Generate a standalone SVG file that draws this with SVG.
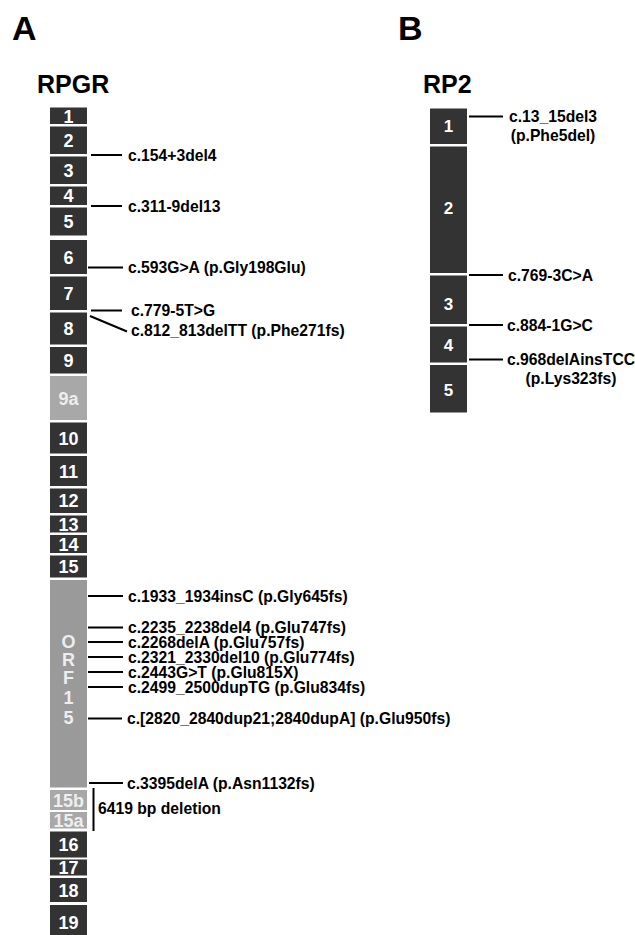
<svg xmlns="http://www.w3.org/2000/svg" width="635" height="935" viewBox="0 0 635 935">
<style>
.dk{fill:#333333}
.lt{fill:#a8a8a8}
.md{fill:#9a9a9a}
.ex{font-family:"Liberation Sans",Arial,sans-serif;font-weight:bold;font-size:18px;fill:#ffffff;text-anchor:middle}
.exl{fill:#eeeeee}
.ex2{font-size:17px}
.mu{font-family:"Liberation Sans",Arial,sans-serif;font-weight:bold;font-size:15.7px;fill:#000000}
.mc{text-anchor:middle}
.ttl{font-family:"Liberation Sans",Arial,sans-serif;font-weight:bold;fill:#000000}
.ln{stroke:#000000;stroke-width:2;fill:none}
</style>
<rect width="635" height="935" fill="#ffffff"/>
<text class="ttl" x="12" y="40" font-size="34">A</text>
<text class="ttl" x="398" y="40" font-size="34">B</text>
<text class="ttl" x="37" y="93" font-size="25">RPGR</text>
<text class="ttl" x="423" y="93" font-size="25">RP2</text>

<g id="rpgr">
<g id="rpgr-e1"><rect class="dk" x="50" y="107.5" width="37" height="16.5"/><text class="ex" x="68.5" y="122.5">1</text></g>
<g id="rpgr-e2"><rect class="dk" x="50" y="126.5" width="37" height="27.5"/><text class="ex" x="68.5" y="146.5">2</text></g>
<g id="rpgr-e3"><rect class="dk" x="50" y="156.5" width="37" height="27.5"/><text class="ex" x="68.5" y="176.5">3</text></g>
<g id="rpgr-e4"><rect class="dk" x="50" y="186.5" width="37" height="18.5"/><text class="ex" x="68.5" y="202">4</text></g>
<g id="rpgr-e5"><rect class="dk" x="50" y="207.5" width="37" height="28"/><text class="ex" x="68.5" y="228">5</text></g>
<g id="rpgr-e6"><rect class="dk" x="50" y="240" width="37" height="34"/><text class="ex" x="68.5" y="263.5">6</text></g>
<g id="rpgr-e7"><rect class="dk" x="50" y="276.5" width="37" height="33.5"/><text class="ex" x="68.5" y="299.5">7</text></g>
<g id="rpgr-e8"><rect class="dk" x="50" y="312.5" width="37" height="32"/><text class="ex" x="68.5" y="335">8</text></g>
<g id="rpgr-e9"><rect class="dk" x="50" y="347" width="37" height="26.5"/><text class="ex" x="68.5" y="366.5">9</text></g>
<g id="rpgr-e9a"><rect class="lt" x="50" y="376" width="37" height="44"/><text class="ex exl" x="68.5" y="404.5">9a</text></g>
<g id="rpgr-e10"><rect class="dk" x="50" y="422.5" width="37" height="31"/><text class="ex" x="68.5" y="444.5">10</text></g>
<g id="rpgr-e11"><rect class="dk" x="50" y="456" width="37" height="30"/><text class="ex" x="68.5" y="477.5">11</text></g>
<g id="rpgr-e12"><rect class="dk" x="50" y="488.5" width="37" height="24.5"/><text class="ex" x="68.5" y="507">12</text></g>
<g id="rpgr-e13"><rect class="dk" x="50" y="515.5" width="37" height="17"/><text class="ex" x="68.5" y="530.5">13</text></g>
<g id="rpgr-e14"><rect class="dk" x="50" y="535" width="37" height="18"/><text class="ex" x="68.5" y="550.5">14</text></g>
<g id="rpgr-e15"><rect class="dk" x="50" y="555.5" width="37" height="22"/><text class="ex" x="68.5" y="573">15</text></g>
<g id="rpgr-orf15"><rect class="md" x="50" y="580" width="37" height="207.5"/>
<text class="ex exl" x="68.5" y="648">O</text><text class="ex exl" x="68.5" y="666">R</text><text class="ex exl" x="68.5" y="684">F</text><text class="ex exl" x="68.5" y="704">1</text><text class="ex exl" x="68.5" y="724">5</text></g>
<g id="rpgr-e15b"><rect class="lt" x="50" y="790" width="37" height="20"/><text class="ex exl" x="68.5" y="806.5">15b</text></g>
<g id="rpgr-e15a"><rect class="lt" x="50" y="812" width="37" height="16.5"/><text class="ex exl" x="68.5" y="826.5">15a</text></g>
<g id="rpgr-e16"><rect class="dk" x="50" y="831.5" width="37" height="26"/><text class="ex" x="68.5" y="851">16</text></g>
<g id="rpgr-e17"><rect class="dk" x="50" y="859.5" width="37" height="16"/><text class="ex" x="68.5" y="874">17</text></g>
<g id="rpgr-e18"><rect class="dk" x="50" y="878" width="37" height="24"/><text class="ex" x="68.5" y="896.5">18</text></g>
<g id="rpgr-e19"><rect class="dk" x="50" y="905" width="37" height="35"/><text class="ex" x="68.5" y="929">19</text></g>
</g>

<g id="rp2">
<g id="rp2-e1"><rect class="dk" x="430" y="108.5" width="37" height="35.5"/><text class="ex ex2" x="448.5" y="132">1</text></g>
<g id="rp2-e2"><rect class="dk" x="430" y="146.5" width="37" height="126.5"/><text class="ex ex2" x="448.5" y="213.5">2</text></g>
<g id="rp2-e3"><rect class="dk" x="430" y="275.5" width="37" height="48.5"/><text class="ex ex2" x="448.5" y="309.5">3</text></g>
<g id="rp2-e4"><rect class="dk" x="430" y="326.5" width="37" height="36"/><text class="ex ex2" x="448.5" y="351">4</text></g>
<g id="rp2-e5"><rect class="dk" x="430" y="365" width="37" height="47.5"/><text class="ex ex2" x="448.5" y="396">5</text></g>
</g>

<g id="connectors">
<line class="ln" x1="91" y1="155" x2="122" y2="155"/>
<line class="ln" x1="91" y1="206" x2="122" y2="206"/>
<line class="ln" x1="88" y1="267.5" x2="123" y2="267.5"/>
<line class="ln" x1="91" y1="310.5" x2="122" y2="310.5"/>
<line class="ln" x1="90" y1="316" x2="127" y2="331.5"/>
<line class="ln" x1="88" y1="596" x2="123" y2="596"/>
<line class="ln" x1="88" y1="627.5" x2="123" y2="627.5"/>
<line class="ln" x1="88" y1="642" x2="123" y2="642"/>
<line class="ln" x1="88" y1="657" x2="123" y2="657"/>
<line class="ln" x1="88" y1="672" x2="123" y2="672"/>
<line class="ln" x1="88" y1="687" x2="123" y2="687"/>
<line class="ln" x1="88" y1="718.5" x2="122" y2="718.5"/>
<line class="ln" x1="89" y1="783" x2="123" y2="783"/>
<line class="ln" x1="93.5" y1="788" x2="93.5" y2="831"/>
<line class="ln" x1="469" y1="116.5" x2="503" y2="116.5"/>
<line class="ln" x1="469" y1="275" x2="503" y2="275"/>
<line class="ln" x1="469" y1="325" x2="503" y2="325"/>
<line class="ln" x1="469" y1="359.5" x2="503" y2="359.5"/>
</g>

<g id="labels">
<text class="mu" x="128" y="160.5">c.154+3del4</text>
<text class="mu" x="128" y="211.5">c.311-9del13</text>
<text class="mu" x="128" y="273">c.593G&gt;A (p.Gly198Glu)</text>
<text class="mu" x="131" y="316">c.779-5T&gt;G</text>
<text class="mu" x="131" y="336">c.812_813delTT (p.Phe271fs)</text>
<text class="mu" x="128" y="601.5">c.1933_1934insC (p.Gly645fs)</text>
<text class="mu" x="128" y="633">c.2235_2238del4 (p.Glu747fs)</text>
<text class="mu" x="128" y="647.5">c.2268delA (p.Glu757fs)</text>
<text class="mu" x="128" y="662.5">c.2321_2330del10 (p.Glu774fs)</text>
<text class="mu" x="128" y="677.5">c.2443G&gt;T (p.Glu815X)</text>
<text class="mu" x="128" y="692.5">c.2499_2500dupTG (p.Glu834fs)</text>
<text class="mu" x="127" y="724">c.[2820_2840dup21;2840dupA] (p.Glu950fs)</text>
<text class="mu" x="127" y="788.5">c.3395delA (p.Asn1132fs)</text>
<text class="mu" x="98" y="814">6419 bp deletion</text>
<text class="mu mc" x="553" y="122">c.13_15del3</text>
<text class="mu mc" x="553" y="140.5">(p.Phe5del)</text>
<text class="mu" x="508" y="280.5">c.769-3C&gt;A</text>
<text class="mu" x="507" y="330.5">c.884-1G&gt;C</text>
<text class="mu mc" x="571" y="365">c.968delAinsTCC</text>
<text class="mu mc" x="571" y="384">(p.Lys323fs)</text>
</g>
</svg>
